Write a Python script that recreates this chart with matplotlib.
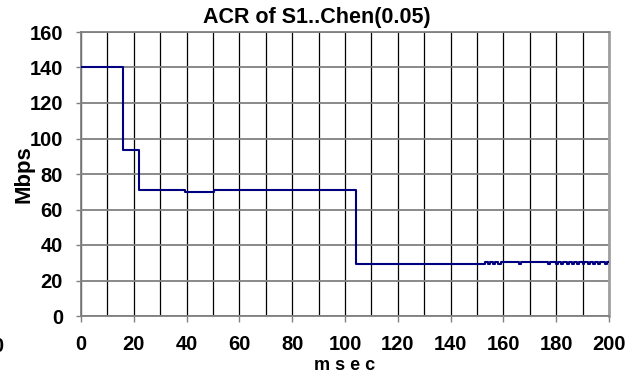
import matplotlib
matplotlib.use("Agg")
import matplotlib.pyplot as plt
import numpy as np

# step changes of the ACR curve: (time in msec, rate in Mbps), value holds until next time
step_t = [0, 16, 22, 39.5, 50.5, 104, 153, 154, 155, 156, 157, 158, 159, 160.5,
          166, 166.6, 177, 177.6, 180, 180.7, 182, 182.7, 184, 184.7, 186, 186.7,
          188, 188.7, 190, 190.7, 192, 192.7, 194, 194.7, 196, 196.7, 198.5, 199.2, 200]
step_v = [140, 93.5, 71, 70, 71, 29.5, 30.5, 29.5, 30.5, 29.5, 30.5, 29.5, 30.5, 30.5,
          29.5, 30.5, 29.5, 30.5, 29.5, 30.5, 29.5, 30.5, 29.5, 30.5, 29.5, 30.5,
          29.5, 30.5, 29.5, 30.5, 29.5, 30.5, 29.5, 30.5, 29.5, 30.5, 29.5, 30.5, 30.5]

x_ticks = list(range(0, 201, 20))
y_ticks = list(range(0, 161, 20))

plt.rcParams['font.family'] = ['Liberation Sans', 'DejaVu Sans']
plt.rcParams['font.weight'] = 'bold'

fig = plt.figure(figsize=(6.3, 3.75), dpi=100)
ax = fig.add_axes([81/630, 1 - 316/375, 528/630, 284/375])

ax.step(step_t, step_v, where='post', color='#000080', lw=1.5, zorder=3)

ax.set_xlim(0, 200)
ax.set_ylim(0, 160)
ax.set_xticks(x_ticks)
ax.set_yticks(y_ticks)
ax.set_xticks(np.arange(10, 200, 20), minor=True)

# vertical grid black every 10 msec, horizontal grid grey
ax.grid(axis='x', which='both', color='black', lw=0.9)
ax.grid(axis='y', which='major', color='#808080', lw=1.3)
ax.set_axisbelow(True)

ax.tick_params(axis='x', which='major', direction='out', length=4.3, width=1,
               color='#808080', pad=9.7, labelsize=14.5)
ax.tick_params(axis='x', which='minor', length=0)
ax.tick_params(axis='y', direction='out', length=3.6, width=1, color='#808080',
               pad=9.4, labelsize=14.5)
for lab in ax.get_xticklabels() + ax.get_yticklabels():
    lab.set_fontweight('bold')

for s in ['left', 'bottom']:
    ax.spines[s].set_color('#808080')
    ax.spines[s].set_linewidth(1.3)
ax.spines['right'].set_color('#a0a0a0')
ax.spines['right'].set_linewidth(2)
ax.spines['top'].set_color('#808080')
ax.spines['top'].set_linewidth(1.3)

ax.set_xlabel('m s e c', fontsize=13, fontweight='bold', va='center')
ax.xaxis.set_label_coords(0.5, (316 - 365) / 284)
ax.set_ylabel('Mbps', fontsize=16, fontweight='bold', va='center')
ax.yaxis.set_label_coords((24 - 81) / 528, 0.5)

fig.text(317/630, 1 - 17/375, 'ACR of S1..Chen(0.05)', ha='center', va='center',
         fontsize=15.5, fontweight='bold')
# stray cut-off label at the far left
fig.text(-2/630, 1 - 347/375, '0', ha='center', va='center', fontsize=14.5,
         fontweight='bold')

fig.savefig('out.png', dpi=100)
